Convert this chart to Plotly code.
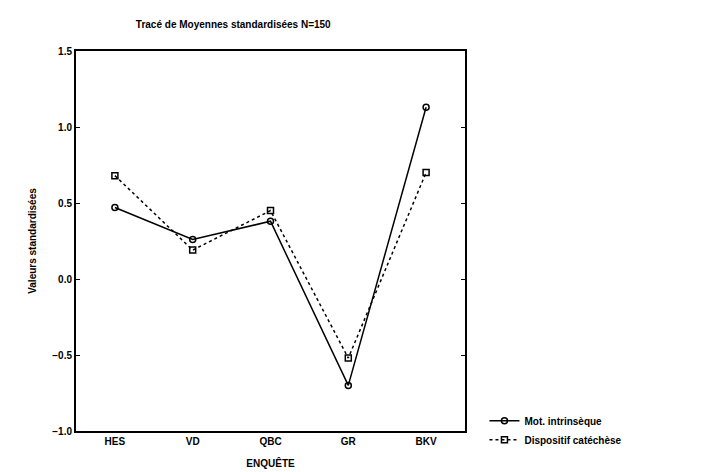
import plotly.graph_objects as go

enquetes = ["HES", "VD", "QBC", "GR", "BKV"]
mot_intrinseque = [0.47, 0.26, 0.38, -0.70, 1.13]
dispositif_catechese = [0.68, 0.19, 0.45, -0.52, 0.70]

font = dict(family="Liberation Sans, Arial, sans-serif", size=10, color="black", weight="bold")

fig = go.Figure()
fig.add_trace(go.Scatter(
    x=enquetes, y=mot_intrinseque, name="Mot. intrinsèque",
    mode="lines+markers",
    line=dict(color="black", width=1.5),
    marker=dict(symbol="circle-open", size=6, color="black", line=dict(width=1.5)),
))
fig.add_trace(go.Scatter(
    x=enquetes, y=dispositif_catechese, name="Dispositif catéchèse",
    mode="lines+markers",
    line=dict(color="black", width=1.5, dash="dot"),
    marker=dict(symbol="square-open", size=6, color="black", line=dict(width=1.5)),
))

fig.update_layout(
    width=704, height=472,
    margin=dict(l=68, r=247, t=43, b=49),
    paper_bgcolor="white", plot_bgcolor="white",
    font=font,
    title=dict(text="Tracé de Moyennes standardisées N=150", x=0.32, xanchor="center",
               y=0.965, yanchor="middle", font=dict(size=10)),
    showlegend=True,
    legend=dict(x=1.05, xanchor="left", y=0.065, yanchor="top",
                bgcolor="rgba(0,0,0,0)", font=dict(size=10),
                tracegroupgap=0, itemwidth=30),
)
fig.update_xaxes(
    title=dict(text="ENQUÊTE", standoff=14, font=dict(size=10)),
    range=[-0.5, 4.5], showgrid=False, zeroline=False,
    showline=True, linecolor="black", linewidth=2, mirror=True,
    ticks="", tickfont=dict(size=10),
)
fig.update_yaxes(
    title=dict(text="Valeurs standardisées", standoff=14, font=dict(size=10, color="black")),
    range=[-1.0, 1.5], dtick=0.5, tickformat=".1f", showgrid=False, zeroline=False,
    showline=True, linecolor="black", linewidth=2, mirror="ticks",
    ticks="inside", ticklen=4, tickcolor="black", tickfont=dict(size=10),
)

fig.write_html("out.html")
